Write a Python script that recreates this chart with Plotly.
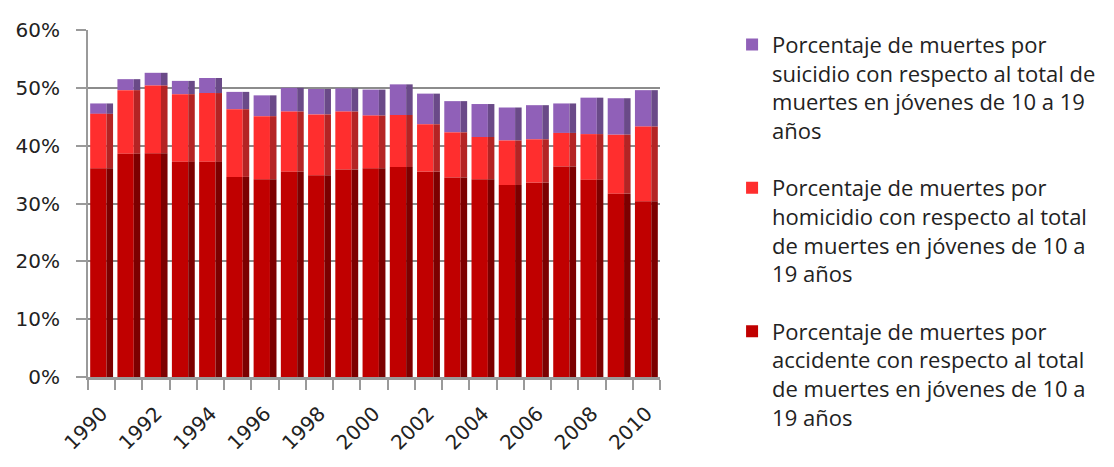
import plotly.graph_objects as go

years = list(range(1990, 2011))

# Share of deaths among 10-19 year olds, by cause (fractions)
accidente = [0.361, 0.386, 0.387, 0.372, 0.372, 0.346, 0.342, 0.355, 0.349, 0.359, 0.361,
             0.363, 0.355, 0.345, 0.342, 0.332, 0.336, 0.364, 0.341, 0.317, 0.304]
homicidio = [0.094, 0.110, 0.117, 0.117, 0.119, 0.117, 0.109, 0.104, 0.105, 0.100, 0.091,
             0.090, 0.082, 0.078, 0.073, 0.077, 0.075, 0.058, 0.079, 0.102, 0.129]
suicidio = [0.018, 0.019, 0.022, 0.023, 0.026, 0.030, 0.036, 0.041, 0.044, 0.040, 0.045,
            0.053, 0.053, 0.054, 0.057, 0.057, 0.059, 0.051, 0.063, 0.063, 0.063]

legend_names = {
    "accidente": "Porcentaje de muertes por<br>accidente con respecto al total<br>de muertes en jóvenes de 10 a<br>19 años",
    "homicidio": "Porcentaje de muertes por<br>homicidio con respecto al total<br>de muertes en jóvenes de 10 a<br>19 años",
    "suicidio": "Porcentaje de muertes por<br>suicidio con respecto al total de<br>muertes en jóvenes de 10 a 19<br>años",
}

# stacking bases: accidente at the bottom, then homicidio, then suicidio
base_acc = [0.0] * len(years)
base_hom = list(accidente)
base_sui = [a + h for a, h in zip(accidente, homicidio)]

# legend order: suicidio, homicidio, accidente
series = [
    ("suicidio", suicidio, base_sui, "#9060B8", "#6A4A88"),
    ("homicidio", homicidio, base_hom, "#FF2E2E", "#B42424"),
    ("accidente", accidente, base_acc, "#C00000", "#7C0000"),
]

FRONT_OFF, FRONT_W = -0.42, 0.60
SIDE_OFF, SIDE_W = 0.18, 0.24

fig = go.Figure()
for key, vals, base, front, side in series:
    # front face of each stacked segment
    fig.add_trace(go.Bar(
        x=years, y=vals, base=base, name=legend_names[key],
        legendgroup=key, marker=dict(color=front, line=dict(width=0)),
        offset=FRONT_OFF, width=FRONT_W,
    ))
    # darker side face for depth
    fig.add_trace(go.Bar(
        x=years, y=vals, base=base, showlegend=False,
        legendgroup=key, marker=dict(color=side, line=dict(width=0)),
        offset=SIDE_OFF, width=SIDE_W, hoverinfo="skip",
    ))

axis_font = dict(family="'DejaVu Sans', sans-serif", size=20, color="#222222")

fig.update_layout(
    width=1114, height=467,
    margin=dict(l=88, r=454, t=30, b=88),
    barmode="overlay",
    paper_bgcolor="white", plot_bgcolor="white",
    font=dict(family="'Open Sans', sans-serif", size=22, color="#222222"),
    legend=dict(
        x=1.126, y=1.0185, xanchor="left", yanchor="top",
        traceorder="grouped", tracegroupgap=26, valign="top",
        font=dict(family="'Open Sans', sans-serif", size=22, color="#222222"),
        itemwidth=30, maxheight=460,
    ),
    showlegend=True,
)

fig.update_yaxes(
    range=[0, 0.6], dtick=0.1, tickformat=".0%",
    showgrid=True, gridcolor="#8C8C8C", gridwidth=2,
    showline=True, linecolor="#9A9A9A", linewidth=2,
    ticks="outside", ticklen=10, tickcolor="#9A9A9A", tickwidth=2,
    ticklabelstandoff=12,
    zeroline=False, tickfont=axis_font,
)

fig.update_xaxes(
    range=[1989.5, 2010.5], dtick=2, tick0=1990, tickangle=-45,
    showgrid=False, showline=True, linecolor="#9A9A9A", linewidth=3,
    ticks="", zeroline=False, ticklabelstandoff=14,
    minor=dict(ticks="outside", tick0=1989.5, dtick=1, ticklen=10,
               tickcolor="#9A9A9A", tickwidth=2, showgrid=False),
    tickfont=axis_font,
)

fig.write_html("out.html")
